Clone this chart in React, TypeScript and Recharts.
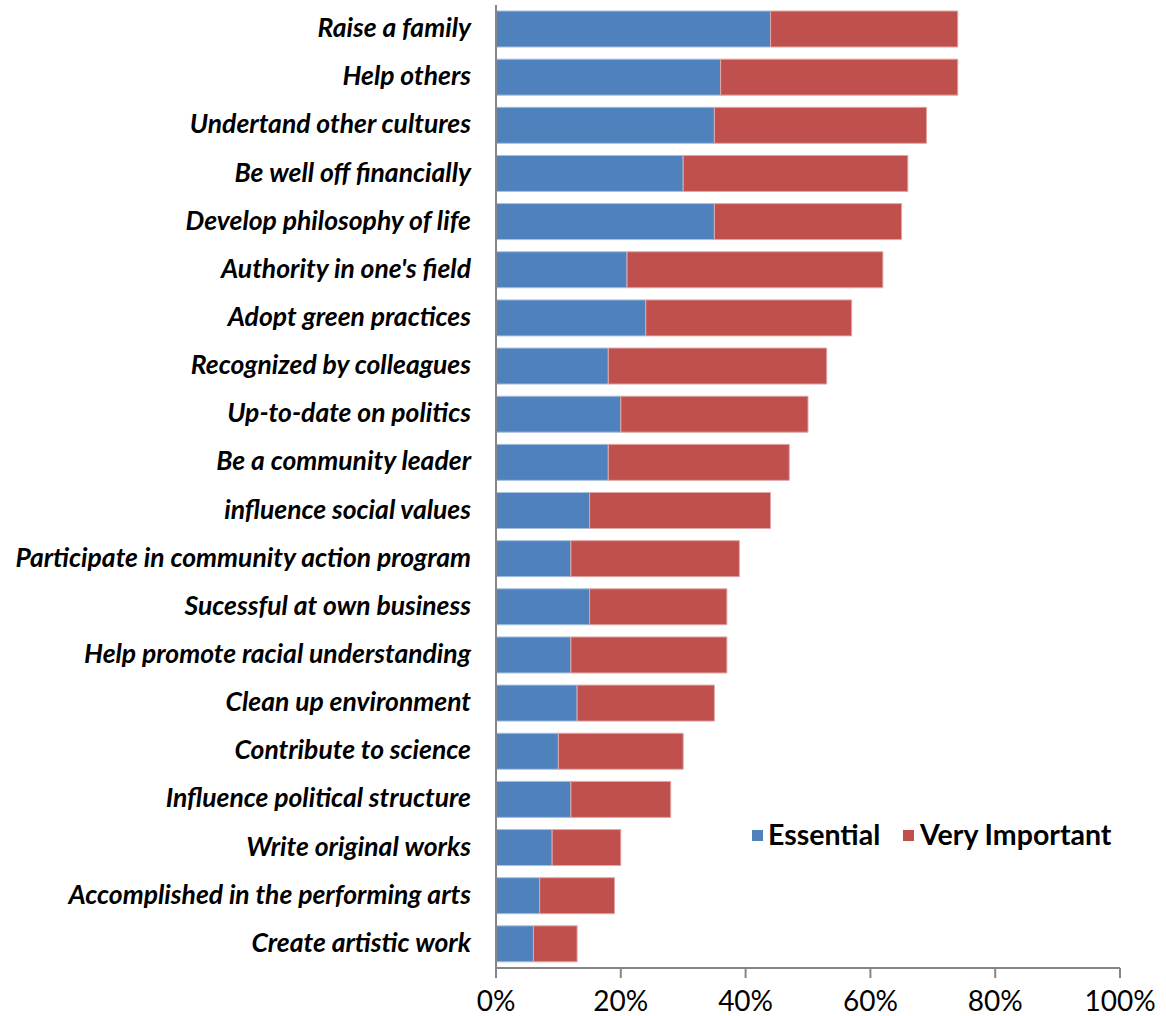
import React from 'react';
import { BarChart, Bar, XAxis, YAxis } from 'recharts';

const categories = [
  'Raise a family',
  'Help others',
  'Undertand other cultures',
  'Be well off financially',
  'Develop philosophy of life',
  "Authority in one's field",
  'Adopt green practices',
  'Recognized by colleagues ',
  'Up-to-date on politics',
  'Be a community leader',
  'influence social values',
  'Participate in community action program',
  'Sucessful at own business',
  'Help promote racial understanding',
  'Clean up environment',
  'Contribute to science',
  'Influence political structure',
  'Write original works',
  'Accomplished in the performing arts',
  'Create artistic work',
];

const essential = [44, 36, 35, 30, 35, 21, 24, 18, 20, 18, 15, 12, 15, 12, 13, 10, 12, 9, 7, 6];
const veryImportant = [30, 38, 34, 36, 30, 41, 33, 35, 30, 29, 29, 27, 22, 25, 22, 20, 16, 11, 12, 7];

const xTicks = [0, 20, 40, 60, 80, 100];

const BLUE = '#4F81BD';
const RED = '#C0504D';
const FONT = 'Lato, "Open Sans", sans-serif';

const data = categories.map((name, i) => ({
  name,
  essential: essential[i],
  veryImportant: veryImportant[i],
}));

const CategoryTick = (props: any) => {
  const { x, y, payload } = props;
  return (
    <text
      x={x - 17}
      y={y + 8}
      textAnchor="end"
      fontFamily={FONT}
      fontWeight="bold"
      fontStyle="italic"
      fontSize={26.5}
      fill="#000"
    >
      {payload.value}
    </text>
  );
};

const PercentTick = (props: any) => {
  const { x, y, payload } = props;
  return (
    <text x={x} y={y + 31} textAnchor="middle" fontFamily={FONT} fontSize={28} fill="#000">
      {payload.value}%
    </text>
  );
};

// legend sits inside the plot, lower right, like the original
const LegendBox = () => (
  <svg width={400} height={40} style={{ position: 'absolute', left: 745, top: 816 }}>
    <rect x={7} y={14} width={11} height={11} fill={BLUE} />
    <text x={23} y={29} fontFamily={FONT} fontWeight="bold" fontSize={28.5} fill="#000">
      Essential
    </text>
    <rect x={158} y={14} width={11} height={11} fill={RED} />
    <text x={175} y={29} fontFamily={FONT} fontWeight="bold" fontSize={28.5} fill="#000">
      Very Important
    </text>
  </svg>
);

export default function App() {
  return (
    <div style={{ position: 'absolute', left: 0, top: 0, background: '#fff' }}>
      <BarChart
        width={1166}
        height={1016}
        data={data}
        layout="vertical"
        margin={{ top: 5, right: 46, bottom: 0, left: 0 }}
        barSize={36}
      >
        <XAxis
          type="number"
          domain={[0, 100]}
          ticks={xTicks}
          interval={0}
          height={48}
          stroke="#868686"
          strokeWidth={2}
          tickSize={10}
          tick={<PercentTick />}
        />
        <YAxis
          type="category"
          dataKey="name"
          width={496}
          stroke="#868686"
          strokeWidth={2}
          tickLine={false}
          interval={0}
          tick={<CategoryTick />}
        />
        <Bar
          dataKey="essential"
          name="Essential"
          stackId="a"
          fill={BLUE}
          stroke="#a7c0de"
          strokeWidth={1}
          isAnimationActive={false}
        />
        <Bar
          dataKey="veryImportant"
          name="Very Important"
          stackId="a"
          fill={RED}
          stroke="#dfa7a6"
          strokeWidth={1}
          isAnimationActive={false}
        />
      </BarChart>
      <LegendBox />
    </div>
  );
}
